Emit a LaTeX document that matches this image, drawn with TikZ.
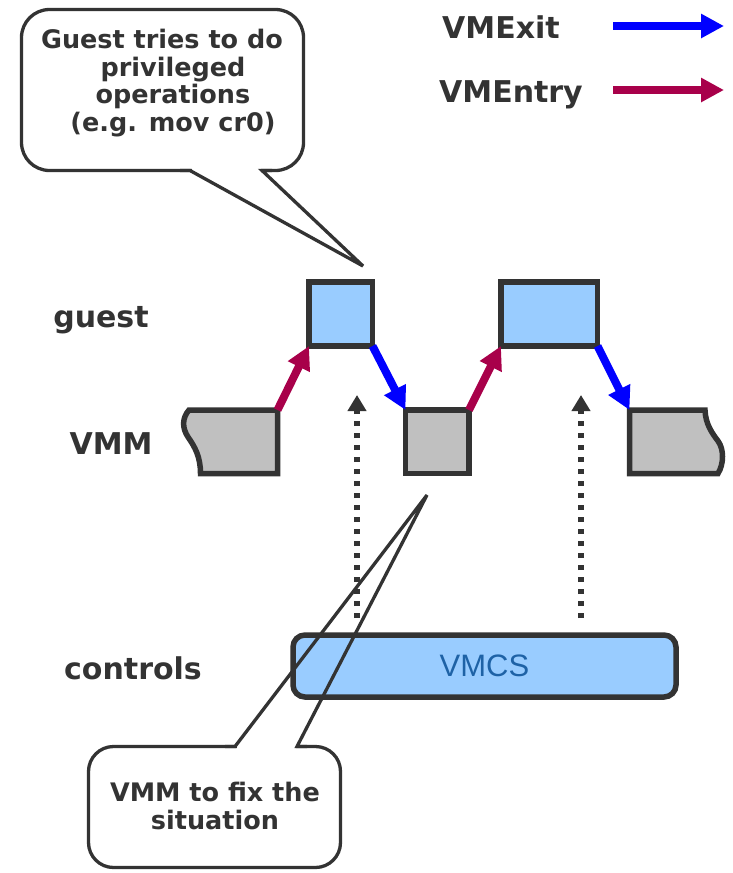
\documentclass[tikz,border=0pt]{standalone}
\usepackage{fontspec}
\setmainfont{DejaVu Sans}
\newfontfamily\vmcsfont{Liberation Sans}
\usepackage{tikz}
\usetikzlibrary{arrows.meta,positioning}
\definecolor{ink}{HTML}{333333}
\definecolor{guestblue}{HTML}{99CCFF}
\definecolor{vmmgray}{HTML}{C0C0C0}
\definecolor{exitblue}{HTML}{0000FF}
\definecolor{entryred}{HTML}{A8004A}
\definecolor{vmcstext}{HTML}{1E62A6}
\tikzset{
	guestbox/.style={rectangle, draw=ink, line width=5.5pt, fill=guestblue, inner sep=0pt, outer sep=0pt},
	vmmbox/.style={draw=ink, line width=5.5pt, fill=vmmgray, inner sep=0pt, outer sep=0pt},
	rowlabel/.style={text=ink, font=\bfseries\fontsize{30}{36}\selectfont, anchor=base},
	bubble/.style={rectangle, draw=ink, line width=3.3pt, fill=white, inner sep=0pt, outer sep=0pt},
	bubbletext/.style={text=ink, font=\bfseries\fontsize{25.5}{27.5}\selectfont, align=center},
	pointer/.style={draw=ink, line width=3.3pt, miter limit=4},
	exitarrow/.style={draw=exitblue, line width=8pt, -{Triangle[length=23pt,width=23pt]}},
	entryarrow/.style={draw=entryred, line width=8pt, -{Triangle[length=23pt,width=23pt]}},
	ctrlarrow/.style={draw=ink, line width=5.5pt, dash pattern=on 5pt off 7pt, -{Triangle[length=16pt,width=18pt]}}
}

\begin{document}
\begin{tikzpicture}[x=1pt, y=-1pt]
    \useasboundingbox (0,0) rectangle (732,873);

    \node (hint) [bubble, rounded corners=28pt, minimum width=282pt, minimum height=161pt] at (162.5,90) {};
    \coordinate (hintTip) at (363,266);
    \fill [white] (191.5,166) rectangle (260.5,175);
    \draw [pointer] (180,170.5) -- (190,170.5) -- (hintTip) -- (262,170.5) -- (272,170.5);
    \node (hintText) [bubbletext] at (173,83) {Guest tries to do\hspace*{22pt}\\privileged\\operations\\(e.g. mov cr0)};

    \node (exitLabel) [rowlabel] at (501,38) {VMExit};
    \node (entryLabel) [rowlabel] at (511,102) {VMEntry};
    \coordinate (exitFrom) at (613,26);
    \coordinate (exitTo) at (724,26);
    \coordinate (entryFrom) at (613,90);
    \coordinate (entryTo) at (724,90);
    \draw [exitarrow] (exitFrom) -- (exitTo);
    \draw [entryarrow] (entryFrom) -- (entryTo);

    \node (guestLabel) [rowlabel] at (101,327) {guest};
    \node (vmmLabel) [rowlabel] at (111,454) {VMM};
    \node (ctrlLabel) [rowlabel] at (133,679) {controls};

    \node (guestA) [guestbox, minimum width=63.5pt, minimum height=64pt] at (340.75,314) {};
    \node (guestB) [guestbox, minimum width=96.5pt, minimum height=64pt] at (549.25,314) {};
    \node (vmmB) [vmmbox, rectangle, minimum width=63.5pt, minimum height=63.5pt] at (437.25,441.75) {};
    \coordinate (vmmAne) at (277.5,410);
    \draw [vmmbox] (vmmAne) -- (189,410) .. controls (182,418) and (182,428) .. (188,437) .. controls (195,447) and (200.5,457) .. (200.5,473.5) -- (277.5,473.5) -- cycle;
    \coordinate (vmmCnw) at (629.5,410);
    \draw [vmmbox] (vmmCnw) -- (705,410) .. controls (705.5,424) and (712,433) .. (718,441) .. controls (724,449) and (724,464) .. (718,473.5) -- (629.5,473.5) -- cycle;

    \draw [entryarrow] (vmmAne) -- (guestA.south west);
    \draw [exitarrow] (guestA.south east) -- (vmmB.north west);
    \draw [entryarrow] (vmmB.north east) -- (guestB.south west);
    \draw [exitarrow] (guestB.south east) -- (vmmCnw);

    \node (vmcs) [guestbox, rounded corners=12pt, minimum width=383pt, minimum height=62pt, text=vmcstext, font=\vmcsfont\fontsize{31}{36}\selectfont] at (484.5,666) {VMCS};
    \coordinate (ctrlAfrom) at (357,618);
    \coordinate (ctrlAto) at (357,395);
    \coordinate (ctrlBfrom) at (581,618);
    \coordinate (ctrlBto) at (581,395);
    \draw [ctrlarrow] (ctrlAfrom) -- (ctrlAto);
    \draw [ctrlarrow] (ctrlBfrom) -- (ctrlBto);

    \node (fix) [bubble, rounded corners=25pt, minimum width=252pt, minimum height=121pt] at (214.5,807) {};
    \coordinate (fixTip) at (427,495);
    \fill [white] (236.5,742) rectangle (295.5,751);
    \draw [pointer] (225,746.5) -- (235,746.5) -- (fixTip) -- (297,746.5) -- (307,746.5);
    \node (fixText) [bubbletext] at (215,806) {VMM to fix the\\situation};
\end{tikzpicture}
\end{document}
